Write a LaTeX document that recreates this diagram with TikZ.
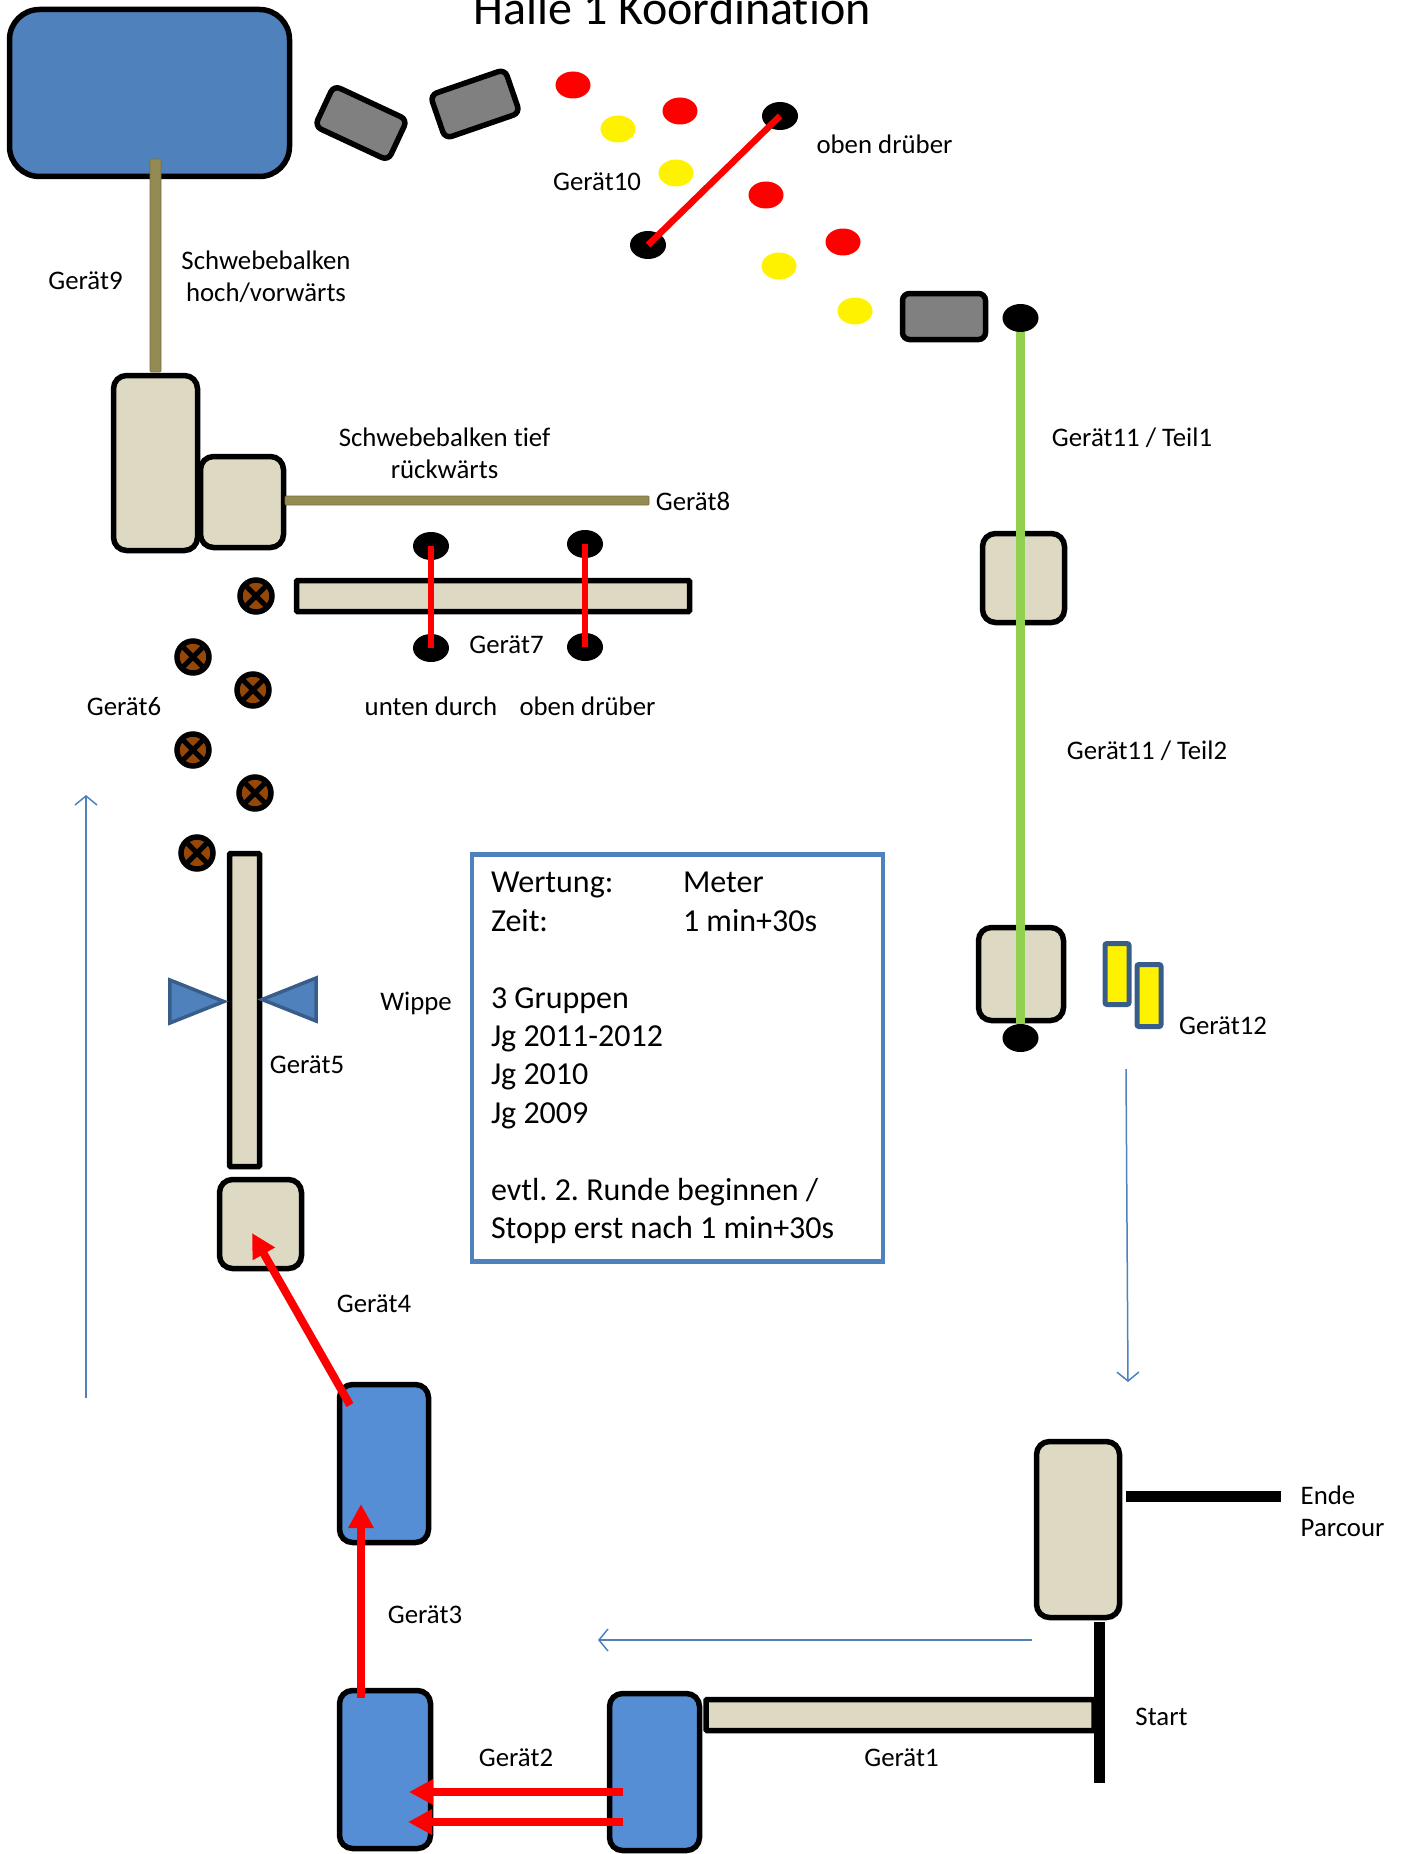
\documentclass[tikz,border=0pt]{standalone}
\usepackage{fontspec}
\setmainfont[Ligatures=NoCommon]{Carlito}
\usetikzlibrary{positioning,shapes.geometric,arrows.meta}
\definecolor{beige}{HTML}{DDD9C3}
\definecolor{halle}{HTML}{4F81BD}
\definecolor{mat}{HTML}{558ED5}
\definecolor{balken}{HTML}{948A54}
\definecolor{rahmen}{HTML}{385D8A}
\definecolor{kegel}{HTML}{974806}
\definecolor{rasen}{HTML}{92D050}

\begin{document}
\begin{tikzpicture}[x=1pt,y=-1pt,on grid,
box/.style={draw=black,line width=5.5pt,rounded corners=13pt,inner sep=0pt,outer sep=0pt},
beigebox/.style={box,fill=beige},
matbox/.style={box,fill=mat},
graybox/.style={box,fill=black!50!white,rounded corners=7pt},
plank/.style={draw=black,line width=5.5pt,fill=beige,inner sep=0pt,rounded corners=1pt},
beam/.style={draw=balken!80!black,line width=.7pt,fill=balken,inner sep=0pt,rounded corners=1pt},
blackbar/.style={fill=black,inner sep=0pt},
spot/.style={ellipse,minimum width=35pt,minimum height=27pt,inner sep=0pt},
redspot/.style={spot,fill=red},
yellowspot/.style={spot,fill=yellow},
oval/.style={ellipse,fill=black,minimum width=36pt,minimum height=28pt,inner sep=0pt},
cone/.style={circle,draw=black,line width=5.5pt,fill=kegel,minimum size=32pt,inner sep=0pt,
    path picture={\draw[line width=5pt]
    (path picture bounding box.north west) -- (path picture bounding box.south east)
    (path picture bounding box.north east) -- (path picture bounding box.south west);}},
flag/.style={draw=rahmen,line width=5pt,fill=yellow,rounded corners=2pt,inner sep=0pt},
wedge/.style={isosceles triangle,isosceles triangle stretches,draw=rahmen,line width=3.5pt,
    fill=halle,inner sep=0pt,minimum width=43pt,minimum height=54pt},
lbl/.style={font=\fontsize{26.8}{32}\selectfont,align=center,inner sep=0pt,yshift=-.5pt},
redline/.style={draw=red,line width=6.5pt},
redarrow/.style={draw=red,line width=8pt,-{Triangle[length=24pt,width=24pt]}},
greenline/.style={draw=rasen,line width=9pt},
flow/.style={draw=halle,line width=1.5pt,-{Straight Barb[length=9pt,width=22pt]}}]

\useasboundingbox (0,0) rectangle (1406,1854);

\node[lbl,anchor=base,font=\fontsize{48}{58}\selectfont,yshift=1pt](title) at (672,25) {Halle 1 Koordination};

\node[box,fill=halle,rounded corners=30pt,minimum width=280pt,minimum height=167pt](hall) at (149.5,93) {};
\node[graybox,rotate=-25,minimum width=81pt,minimum height=45pt](gray1) [below right=30pt and 211.5pt of hall] {};
\node[graybox,rotate=19,minimum width=79pt,minimum height=46pt](gray2) [above right=19pt and 114pt of gray1] {};

\node[redspot](red1) [above right=19pt and 98pt of gray2] {};
\node[yellowspot](yellow1) [below right=44pt and 45pt of red1] {};
\node[redspot](red2) [above right=18pt and 62pt of yellow1] {};
\node[yellowspot](yellow2) [below left=62pt and 4pt of red2] {};
\node[oval](ovaltop) [below right=5pt and 100pt of red2] {};
\node[oval](ovallow) [below left=129pt and 132pt of ovaltop] {};
\node[redspot](red3) [below left=79pt and 14pt of ovaltop] {};
\node[redspot](red4) [below right=47pt and 77pt of red3] {};
\node[yellowspot](yellow3) [below right=71pt and 13pt of red3] {};
\node[yellowspot](yellow4) [below right=69pt and 12pt of red4] {};
\node[graybox,minimum width=83pt,minimum height=46pt](gray3) [below right=5.5pt and 89pt of yellow4] {};

\node[beigebox,minimum width=82pt,minimum height=89pt](posttop) at (1023.5,578) {};
\node[beigebox,minimum width=85pt,minimum height=93pt](postlow) [below left=396pt and 2.5pt of posttop] {};
\node[oval](ovalA) [above left=260pt and 3pt of posttop] {};
\node[oval](ovalB) [below left=64pt and .5pt of postlow] {};
\node[flag,minimum width=24pt,minimum height=61pt](flag1) [right=96pt of postlow] {};
\node[flag,minimum width=24pt,minimum height=62pt](flag2) [below right=21.5pt and 32pt of flag1] {};

\node[beigebox,minimum width=84pt,minimum height=175pt](tall) at (155.5,463) {};
\node[beam,minimum width=11pt,minimum height=213pt](beam9) [above=197.5pt of tall] {};
\node[beigebox,minimum width=83pt,minimum height=91pt](low) [below right=39pt and 86.5pt of tall] {};
\node[beam,minimum width=364pt,minimum height=9pt](beam8) [above right=1.5pt and 225pt of low] {};
\node[plank,minimum width=393pt,minimum height=31pt](bar7) [below right=95.5pt and 26pt of beam8] {};
\node[oval](ovalC) [above left=50pt and 62pt of bar7] {};
\node[oval](ovalD) [below left=52pt and 62pt of bar7] {};
\node[oval](ovalE) [above right=52pt and 92pt of bar7] {};
\node[oval](ovalF) [below right=51pt and 92pt of bar7] {};

\node[cone](cone1) [left=237pt of bar7] {};
\node[cone](cone2) [below left=61pt and 63pt of cone1] {};
\node[cone](cone3) [below right=33pt and 60pt of cone2] {};
\node[cone](cone4) [below left=60pt and 60pt of cone3] {};
\node[cone](cone5) [below right=43pt and 62pt of cone4] {};
\node[cone](cone6) [below left=60pt and 58pt of cone5] {};

\node[plank,minimum width=30pt,minimum height=313pt](wippe) [below right=157pt and 47.5pt of cone6] {};
\node[wedge](wedgeL) [above left=8.5pt and 60pt of wippe] {};
\node[wedge,shape border rotate=180](wedgeR) [above right=10.5pt and 57pt of wippe] {};
\node[beigebox,minimum width=82pt,minimum height=89pt](seesaw) [below right=214pt and 16pt of wippe] {};
\node[matbox,minimum width=89pt,minimum height=158pt](mat3) [below right=239.5pt and 123.5pt of seesaw] {};
\node[matbox,minimum width=91pt,minimum height=158pt](mat2) [below right=306pt and 1pt of mat3] {};
\node[matbox,minimum width=90pt,minimum height=157pt](mat1) [below right=2.5pt and 269.5pt of mat2] {};
\node[plank,minimum width=388pt,minimum height=31pt](bar1) [above right=57pt and 245.5pt of mat1] {};
\node[blackbar,minimum width=11pt,minimum height=161pt](startbar) [above right=12.5pt and 199pt of bar1] {};
\node[beigebox,minimum width=83pt,minimum height=176pt](endbox) [above left=173pt and 21pt of startbar] {};
\node[blackbar,minimum width=155pt,minimum height=11pt](endbar) [above right=33.5pt and 125.5pt of endbox] {};

\node[draw=halle,line width=4.5pt,fill=white,inner sep=0pt,minimum width=411pt,minimum height=407pt,
    text width=373pt,align=flush left,font=\fontsize{32}{38.4}\selectfont\frenchspacing](info) at (677.5,1058)
    {\makebox[192pt][l]{Wertung:}Meter\\
     \makebox[192pt][l]{Zeit:}1 min+30s\\
     \mbox{}\\
     3 Gruppen\\
     Jg 2011-2012\\
     Jg 2010\\
     Jg 2009\\
     \mbox{}\\
     evtl. 2. Runde beginnen /\\
     Stopp erst nach 1 min+30s};

\node[lbl](l10) at (597,181) {Gerät10};
\node[lbl](over1) at (884.5,144) {oben drüber};
\node[lbl](l9) at (85.5,280) {Gerät9};
\node[lbl](high) at (266,276) {Schwebebalken\\hoch/vorwärts};
\node[lbl](part1) at (1132,437.5) {Gerät11 / Teil1};
\node[lbl](deep) at (444.5,452.5) {Schwebebalken tief\\rückwärts};
\node[lbl](l8) at (693,501) {Gerät8};
\node[lbl](l7) at (506.5,644) {Gerät7};
\node[lbl](under) at (431,706) {unten durch};
\node[lbl](over2) at (587.5,706) {oben drüber};
\node[lbl](l6) at (124,706) {Gerät6};
\node[lbl](part2) at (1147,750.5) {Gerät11 / Teil2};
\node[lbl](wipp) at (416,1003) {Wippe};
\node[lbl](l5) at (307,1064) {Gerät5};
\node[lbl](l12) at (1223,1025) {Gerät12};
\node[lbl](l4) at (374,1303) {Gerät4};
\node[lbl,anchor=west,align=left](finish) at (1300.5,1510.5) {Ende\\Parcour};
\node[lbl](l3) at (425,1614) {Gerät3};
\node[lbl](begin) at (1161.5,1716) {Start};
\node[lbl](l2) at (516,1757) {Gerät2};
\node[lbl](l1) at (901.5,1757) {Gerät1};

\coordinate (upA) at (86,1398);
\coordinate (upB) at (86,795);
\coordinate (downA) at (1126,1069);
\coordinate (downB) at (1128,1382);
\coordinate (backA) at (1032,1640);
\coordinate (backB) at (598,1640);
\coordinate (a4) at (350,1405);
\coordinate (b4) at (252,1233);
\coordinate (a3) at (361,1698);
\coordinate (b3) at (361,1504);
\coordinate (a2) at (623,1792);
\coordinate (b2) at (409,1792);
\coordinate (c2) at (623,1822);
\coordinate (d2) at (408,1822);

\path
     (upA) edge[flow] (upB)
     (downA) edge[flow] (downB)
     (backA) edge[flow] (backB)
     (a4) edge[redarrow] (b4)
     (a3) edge[redarrow] (b3)
     (a2) edge[redarrow] (b2)
     (c2) edge[redarrow] (d2)
     (ovaltop.center) edge[redline] (ovallow.center)
     (ovalC.center) edge[redline] (ovalD.center)
     (ovalE.center) edge[redline] (ovalF.center)
     (ovalA.south) edge[greenline] (ovalB.north);

\end{tikzpicture}
\end{document}
